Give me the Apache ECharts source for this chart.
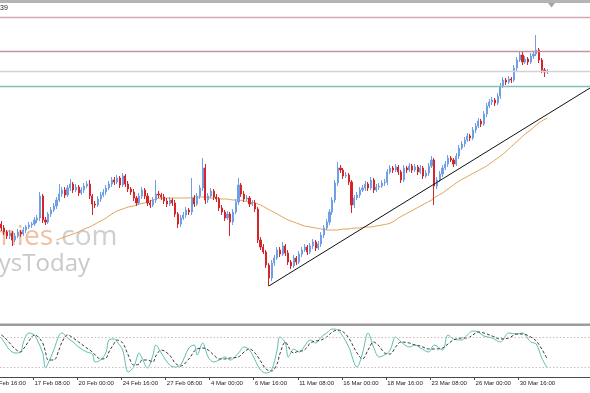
<!DOCTYPE html>
<html><head><meta charset="utf-8">
<script src="https://cdn.jsdelivr.net/npm/echarts/dist/echarts.min.js"></script>
<style>html,body{margin:0;padding:0;background:#fff;overflow:hidden}#c{width:590px;height:393px}</style>
</head><body><div id="c"></div>
<script>
// ---- data (H4 bars, index 0 = leftmost visible bar) ----
const opens = [
2930,2926,2922,2918,2921,2914,2918,2922,2920,2924,
2927,2929,2930,2934,2936,2958,2934,2932,2940,2944,
2948,2954,2960,2964,2959,2966,2970,2964,2967,2961,
2964,2968,2970,2958,2950,2949,2955,2959,2962,2966,
2970,2974,2972,2976,2969,2978,2970,2965,2962,2956,
2951,2958,2964,2958,2951,2949,2954,2960,2959,2957,
2953,2950,2954,2951,2940,2930,2936,2939,2944,2942,
2956,2950,2958,2966,2986,2954,2958,2963,2957,2955,
2946,2942,2936,2940,2932,2942,2952,2969,2960,2955,
2956,2950,2951,2945,2914,2907,2902,2889,2876,2891,
2896,2904,2900,2908,2901,2892,2888,2896,2892,2900,
2904,2907,2902,2908,2912,2906,2910,2919,2926,2932,
2942,2954,2971,2986,2984,2978,2979,2972,2949,2956,
2959,2964,2966,2970,2966,2974,2964,2967,2968,2971,
2972,2982,2986,2984,2987,2982,2974,2986,2984,2988,
2984,2987,2982,2986,2978,2981,2988,2994,2968,2974,
2980,2986,2990,2996,2994,2990,2998,3006,3010,3014,
3018,3016,3024,3028,3033,3030,3040,3048,3052,3054,
3051,3058,3068,3074,3072,3075,3074,3086,3094,3099,
3092,3095,3092,3098,3100,3104,3094,3084,3082];
const closes = [
2926,2922,2918,2921,2914,2918,2922,2920,2924,2927,
2929,2930,2934,2936,2958,2934,2932,2940,2944,2948,
2954,2960,2964,2959,2966,2970,2964,2967,2961,2964,
2968,2970,2958,2950,2949,2955,2959,2962,2966,2970,
2974,2972,2976,2969,2978,2970,2965,2962,2956,2951,
2958,2964,2958,2951,2949,2954,2960,2959,2957,2953,
2950,2954,2951,2940,2930,2936,2939,2944,2942,2956,
2950,2958,2966,2986,2954,2958,2963,2957,2955,2946,
2942,2936,2940,2932,2942,2952,2969,2960,2955,2956,
2950,2951,2945,2914,2907,2902,2889,2876,2891,2896,
2904,2900,2908,2901,2892,2888,2896,2892,2900,2904,
2907,2902,2908,2912,2906,2910,2919,2926,2932,2942,
2954,2971,2986,2984,2978,2979,2972,2949,2956,2959,
2964,2966,2970,2966,2974,2964,2967,2968,2971,2972,
2982,2986,2984,2987,2982,2974,2986,2984,2988,2984,
2987,2982,2986,2978,2981,2988,2994,2968,2974,2980,
2986,2990,2996,2994,2990,2998,3006,3010,3014,3018,
3016,3024,3028,3033,3030,3040,3048,3052,3054,3051,
3058,3068,3074,3072,3075,3074,3086,3094,3099,3092,
3095,3092,3098,3100,3104,3094,3084,3082,3083];
const highs = [
2933,2929,2924,2924,2923,2921,2925,2924,2927,2929,
2932,2932,2937,2939,2962,2960,2937,2942,2947,2951,
2957,2970,2967,2967,2969,2975,2972,2970,2969,2967,
2971,2973,2974,2960,2953,2958,2962,2965,2969,2973,
2977,2977,2979,2978,2981,2980,2973,2967,2965,2958,
2961,2967,2966,2961,2954,2957,2974,2963,2961,2960,
2956,2957,2956,2954,2942,2939,2942,2947,2946,2976,
2959,2961,2969,2996,2990,2961,2966,2965,2960,2957,
2949,2944,2943,2942,2945,2955,2976,2971,2963,2959,
2958,2954,2954,2947,2917,2910,2904,2891,2894,2899,
2907,2907,2912,2910,2904,2894,2899,2898,2903,2907,
2910,2909,2911,2915,2914,2913,2922,2929,2935,2945,
2957,2974,2992,2989,2986,2982,2981,2974,2959,2962,
2967,2969,2973,2972,2977,2976,2970,2971,2974,2975,
2985,2989,2988,2990,2989,2984,2989,2988,2991,2990,
2990,2989,2989,2988,2984,2991,2998,2996,2977,2983,
2989,2993,2999,2998,2996,3001,3009,3013,3017,3021,
3020,3027,3031,3036,3035,3043,3051,3055,3057,3056,
3061,3071,3077,3076,3078,3077,3089,3097,3102,3103,
3098,3097,3101,3103,3119,3106,3096,3086,3085];
const lows = [
2923,2919,2915,2915,2908,2912,2916,2917,2918,2921,
2925,2926,2928,2931,2933,2931,2929,2930,2937,2942,
2945,2952,2957,2956,2957,2963,2961,2962,2958,2959,
2961,2966,2955,2939,2946,2947,2952,2957,2959,2964,
2967,2969,2970,2966,2967,2967,2962,2959,2953,2948,
2949,2955,2955,2948,2946,2947,2951,2956,2954,2950,
2947,2948,2948,2937,2926,2927,2934,2936,2939,2939,
2947,2948,2955,2963,2950,2951,2956,2954,2952,2943,
2939,2933,2934,2918,2929,2940,2949,2957,2952,2953,
2947,2948,2942,2911,2904,2900,2886,2868,2873,2888,
2894,2897,2898,2898,2889,2885,2886,2889,2890,2897,
2902,2899,2900,2905,2903,2904,2907,2916,2924,2929,
2939,2951,2968,2981,2975,2976,2969,2941,2946,2954,
2956,2962,2963,2963,2964,2961,2962,2964,2966,2968,
2969,2980,2981,2982,2979,2971,2972,2981,2982,2981,
2982,2979,2980,2975,2976,2978,2986,2949,2965,2972,
2977,2984,2987,2992,2987,2988,2995,3004,3007,3012,
3013,3014,3021,3026,3027,3028,3037,3046,3049,3048,
3049,3055,3066,3069,3070,3071,3072,3083,3092,3089,
3090,3089,3090,3095,3098,3091,3081,3077,3080];

// moving average, read every 2nd bar starting at bar 20
const maFirstBar = 20;
const maValues = [
2914,2916,2918,2920,2922,2925,2927,2930,2933,2936,
2940,2943,2945,2947,2948,2950,2951,2953,2955,2956,
2956,2956,2956,2956,2956,2957,2957,2957,2956,2956,
2955,2955,2954,2954,2953,2952,2951,2949,2946,2943,
2940,2937,2934,2932,2930,2928,2927,2926,2925,2924,
2924,2924,2925,2925,2926,2926,2927,2927,2928,2929,
2930,2932,2936,2939,2942,2945,2948,2951,2954,2958,
2961,2965,2969,2973,2976,2979,2982,2985,2988,2992,
2996,3000,3005,3010,3015,3020,3024,3029,3033,3036];

// trend line (bar, price) endpoints
const trendBars = [97, 213.5];
const trendPrices = [2868, 3066];

// horizontal levels
const levelPrices = [3137, 3103, 3083, 3068];
const levelColors = ['#d3a7b0', '#c4939b', '#d2d2d2', '#7fc2b2'];

// stochastic oscillator (%K solid, %D dashed) read at these bars
const stochBars = [0,1,3,5,7,8,10,12,13,15,16,17,19,21,22,24,26,28,31,33,34,36,38,39,41,42,44,46,48,50,51,53,55,56,58,61,63,65,68,70,71,73,75,77,79,81,83,86,88,90,92,94,96,98,100,101,103,104,105,106,108,109,111,112,114,116,118,120,122,124,126,129,131,133,135,137,139,141,143,145,148,150,152,155,157,160,162,164,167,169,171,173,175,178,181,184,187,189,192,194,196,198];
const stochK = [78,70,54,48,50,70,88,84,74,48,18,28,54,84,88,78,70,60,50,46,30,34,50,74,76,70,54,10,20,48,38,18,44,64,48,24,20,24,58,64,44,68,40,30,34,40,34,48,60,54,34,14,8,14,54,80,68,40,48,56,50,54,70,74,68,80,88,96,94,80,60,20,48,88,60,40,44,54,80,70,60,64,58,50,64,54,84,76,74,84,92,90,82,78,70,88,86,88,70,66,38,18];
const stochD = [84,80,68,56,50,56,72,84,82,68,50,34,34,56,70,84,78,70,58,50,44,36,38,50,68,74,68,44,24,26,34,34,30,42,54,44,28,22,36,52,56,58,54,44,36,36,38,40,50,56,48,32,16,12,26,46,70,62,52,48,52,52,60,68,72,74,80,90,94,90,78,48,36,54,70,62,48,46,60,70,68,64,62,56,56,58,66,74,78,78,84,90,88,82,76,78,86,86,80,72,56,36];
const stochLevels = [80, 20];

// time axis labels (bar index -> label)
const tickBars = [12,28,44,60,76,92,108,124,140,156,172,188];
const tickTexts = ['17 Feb 08:00','20 Feb 00:00','24 Feb 16:00','27 Feb 08:00','4 Mar 00:00','6 Mar 16:00','11 Mar 08:00','16 Mar 00:00','18 Mar 16:00','23 Mar 08:00','26 Mar 00:00','30 Mar 16:00'];
const cutLabel = '12 Feb 16:00';

// ---- chart ----
const SLOTS = 214;
const slots = Array.from({length: SLOTS}, (_, i) => String(i));
const candleData = opens.map((o, i) => [o, closes[i], lows[i], highs[i]]);
const maData = maValues.map((v, i) => [maFirstBar + 2 * i, v]);
const trendData = trendBars.map((b, i) => [b, trendPrices[i]]);
const kData = stochBars.map((b, i) => [b, stochK[i]]);
const dData = stochBars.map((b, i) => [b, stochD[i]]);
const labelMap = {};
tickBars.forEach((b, i) => labelMap[b] = tickTexts[i]);
const isTick = (idx) => labelMap[idx] !== undefined;

const chart = echarts.init(document.getElementById('c'), null, {renderer: 'canvas'});
chart.setOption({
  animation: false,
  backgroundColor: '#ffffff',
  grid: [
    {left: 0, right: 0, top: 4, height: 318},
    {left: 0, right: 0, top: 327, height: 50}
  ],
  xAxis: [
    {type: 'category', gridIndex: 0, data: slots, boundaryGap: true, show: false},
    {type: 'value', gridIndex: 0, min: -0.5, max: SLOTS - 0.5, show: false},
    {type: 'category', gridIndex: 1, data: slots, boundaryGap: true, position: 'bottom',
      axisLine: {show: true, lineStyle: {color: '#4a4a4a', width: 1}},
      axisTick: {show: true, interval: isTick, length: 3, lineStyle: {color: '#4a4a4a'}},
      axisLabel: {show: true, interval: isTick, formatter: (v, idx) => labelMap[idx] || '',
        align: 'left', margin: 3, fontSize: 6, fontFamily: 'Liberation Sans', color: '#222', hideOverlap: false},
      splitLine: {show: false}},
    {type: 'value', gridIndex: 1, min: -0.5, max: SLOTS - 0.5, show: false}
  ],
  yAxis: [
    {type: 'value', gridIndex: 0, min: 2832, max: 3150, show: false, splitLine: {show: false}},
    {type: 'value', gridIndex: 1, min: 0, max: 100, show: false, splitLine: {show: false}}
  ],
  series: [
    {
      type: 'candlestick', xAxisIndex: 0, yAxisIndex: 0, data: candleData,
      barWidth: 1.6,
      itemStyle: {color: '#6f9fe4', color0: '#d5252a', borderColor: '#6f9fe4', borderColor0: '#d5252a', borderWidth: 1},
      markLine: {
        silent: true, symbol: 'none', label: {show: false}, animation: false,
        data: levelPrices.map((p, i) => ({yAxis: p, lineStyle: {color: levelColors[i], width: 1.3, type: 'solid'}}))
      },
      z: 3
    },
    {
      type: 'line', xAxisIndex: 1, yAxisIndex: 0, data: maData, showSymbol: false, smooth: 0.3,
      lineStyle: {color: '#e2a458', width: 1}, z: 2
    },
    {
      type: 'line', xAxisIndex: 1, yAxisIndex: 0, data: trendData, showSymbol: false,
      lineStyle: {color: '#111', width: 1}, z: 4
    },
    {
      type: 'line', xAxisIndex: 3, yAxisIndex: 1, data: kData, showSymbol: false, smooth: 0.35,
      lineStyle: {color: '#5dbfb1', width: 1},
      markLine: {
        silent: true, symbol: 'none', label: {show: false},
        lineStyle: {color: '#cbbcbc', type: [1.5, 2], width: 1},
        data: stochLevels.map(v => ({yAxis: v}))
      }
    },
    {
      type: 'line', xAxisIndex: 3, yAxisIndex: 1, data: dData, showSymbol: false, smooth: 0.35,
      lineStyle: {color: '#3a3a3a', width: 1, type: [3, 2]}
    }
  ],
  graphic: [
    {type: 'text', z: -10, style: {text: 'mies', x: 53, y: 237, textAlign: 'right', textVerticalAlign: 'middle', font: '28px "Open Sans"', fill: '#f2bfa1'}},
    {type: 'text', z: -10, style: {text: '.com', x: 54, y: 237, textAlign: 'left', textVerticalAlign: 'middle', font: '28px "Open Sans"', fill: '#cfcfcf'}},
    {type: 'text', z: -10, style: {text: 'ysToday', x: 90, y: 264, textAlign: 'right', textVerticalAlign: 'middle', font: '24px "Open Sans"', fill: '#c9c9c9'}},
    {type: 'rect', z: 10, shape: {x: 0, y: 0, width: 590, height: 3}, style: {fill: '#b4b4b4'}},
    {type: 'polygon', z: 10, shape: {points: [[548, 3], [555, 3], [551.5, 7.5]]}, style: {fill: '#a4a4a4'}},
    {type: 'text', z: 10, style: {text: '39', x: 0, y: 8.5, textVerticalAlign: 'middle', font: '7px "Liberation Sans"', fill: '#222'}},
    {type: 'rect', z: 10, shape: {x: 0, y: 323.5, width: 590, height: 2.5}, style: {fill: '#9c9c9c'}},
    {type: 'text', z: 10, style: {text: cutLabel, x: -9.6, y: 380, textVerticalAlign: 'top', font: '6px "Liberation Sans"', fill: '#222'}}
  ]
});
</script>
</body></html>
